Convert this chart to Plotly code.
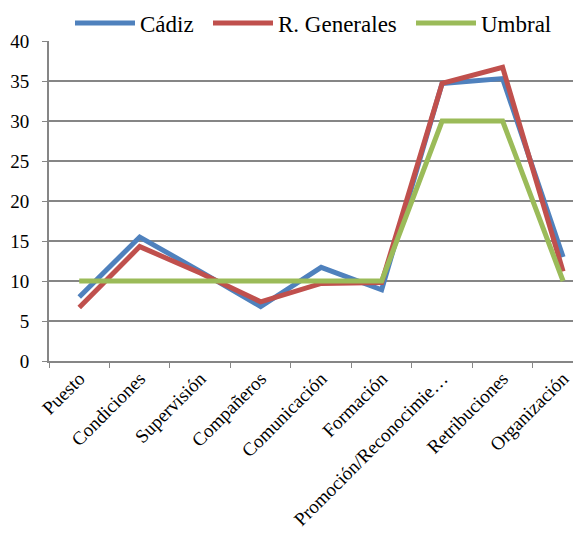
import plotly.graph_objects as go

categories = ["Puesto", "Condiciones", "Supervisión", "Compañeros", "Comunicación",
              "Formación", "Promoción/Reconocimie…", "Retribuciones", "Organización"]
cadiz = [8.0, 15.5, 11.2, 6.8, 11.7, 8.9, 34.7, 35.3, 13.0]
generales = [6.7, 14.3, 11.0, 7.4, 9.7, 9.8, 34.7, 36.7, 11.2]
umbral = [10, 10, 10, 10, 10, 10, 30, 30, 10]

series = [("Cádiz", cadiz, "#4F81BD"), ("R. Generales", generales, "#C0504D"), ("Umbral", umbral, "#9BBB59")]
legend_ids = ["legend", "legend2", "legend3"]
legend_x = [62, 200, 403]

W, H = 573, 525
fam = "Liberation Serif, Times New Roman, serif"
fig = go.Figure()
for (name, vals, color), lid in zip(series, legend_ids):
    fig.add_trace(go.Scatter(x=categories, y=vals, name=name, mode="lines",
                             line=dict(color=color, width=5), legend=lid))

legend_layout = {}
for lid, lx in zip(legend_ids, legend_x):
    legend_layout[lid] = dict(orientation="h", xref="container", yref="container",
                              x=lx / W, y=1 - 15 / H, xanchor="left", yanchor="middle",
                              font=dict(family=fam, size=23, color="#000000"),
                              itemwidth=60, bgcolor="rgba(0,0,0,0)")

fig.update_layout(
    width=W, height=H,
    margin=dict(l=41, r=4, t=33, b=172, autoexpand=False),
    paper_bgcolor="white", plot_bgcolor="white",
    font=dict(family=fam, size=17, color="#000000"),
    showlegend=True,
    **legend_layout,
)
fig.update_xaxes(type="category", range=[-0.5, 8.23], tickangle=-45, tickson="boundaries",
                 ticks="outside", ticklen=5, tickcolor="#868686", showline=True,
                 linecolor="#868686", linewidth=2, showgrid=False, automargin=False,
                 ticklabelstandoff=-3,
                 tickfont=dict(family=fam, size=19, color="#000000"))
fig.update_yaxes(range=[0, 40], dtick=5, ticks="outside", ticklen=5, tickcolor="#868686",
                 showline=True, linecolor="#868686", linewidth=2, showgrid=True,
                 gridcolor="#868686", gridwidth=1.5, zeroline=False, automargin=False,
                 ticklabelstandoff=9,
                 tickfont=dict(family=fam, size=19, color="#000000"))

fig.write_html("out.html")
